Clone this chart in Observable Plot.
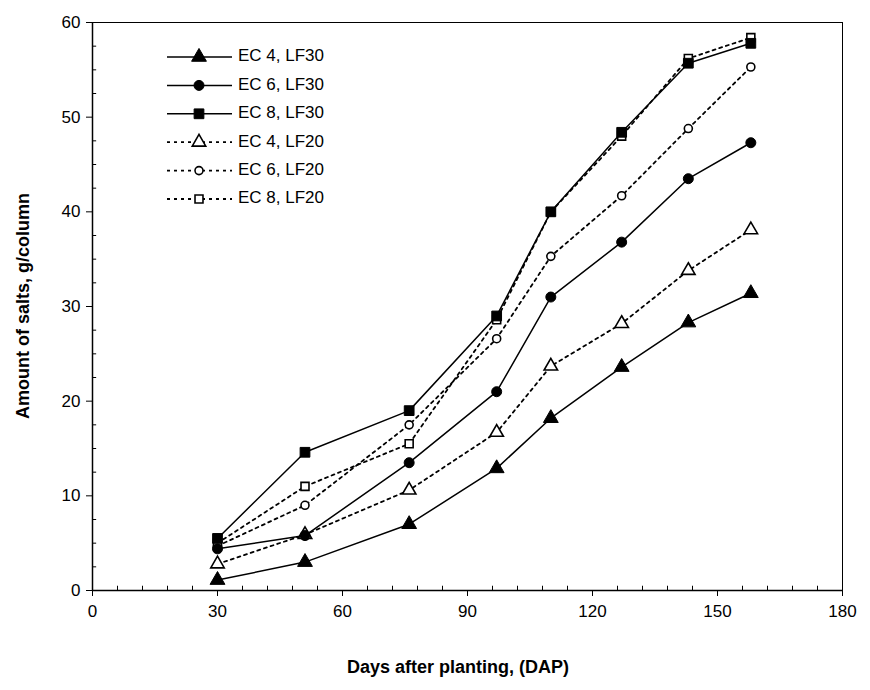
<!DOCTYPE html>
<html><head><meta charset="utf-8">
<script src="https://cdn.jsdelivr.net/npm/d3@7"></script>
<script src="https://cdn.jsdelivr.net/npm/@observablehq/plot@0.6"></script>
<style>body{margin:0;background:#fff} #chart{width:870px;height:690px}</style>
</head><body><div id="chart"></div>
<script>
// ---- data ----
const days = [30, 51, 76, 97, 110, 127, 143, 158];
const seriesNames = ["EC 4, LF30", "EC 6, LF30", "EC 8, LF30", "EC 4, LF20", "EC 6, LF20", "EC 8, LF20"];
const ec4lf30 = [1.1, 3.0, 7.0, 12.9, 18.2, 23.6, 28.3, 31.4];
const ec6lf30 = [4.4, 5.8, 13.5, 21.0, 31.0, 36.8, 43.5, 47.3];
const ec8lf30 = [5.5, 14.6, 19.0, 29.0, 40.0, 48.4, 55.7, 57.8];
const ec4lf20 = [2.8, 5.9, 10.6, 16.7, 23.7, 28.2, 33.8, 38.1];
const ec6lf20 = [4.7, 9.0, 17.5, 26.6, 35.3, 41.7, 48.8, 55.3];
const ec8lf20 = [5.0, 11.0, 15.5, 28.6, 40.0, 48.0, 56.2, 58.4];
const xTicks = [0, 30, 60, 90, 120, 150, 180];
const yTicks = [0, 10, 20, 30, 40, 50, 60];
const xTitle = "Days after planting, (DAP)";
const yTitle = "Amount of salts, g/column";

const values = [ec4lf30, ec6lf30, ec8lf30, ec4lf20, ec6lf20, ec8lf20];
const styleOf = {
  "EC 4, LF30": {symbol: "triangle", fill: "black", dash: null, r: 5.5, sw: 1},
  "EC 6, LF30": {symbol: "circle", fill: "black", dash: null, r: 5, sw: 1},
  "EC 8, LF30": {symbol: "square", fill: "black", dash: null, r: 5.5, sw: 1},
  "EC 4, LF20": {symbol: "triangle", fill: "white", dash: "3,4", r: 5, sw: 1.6},
  "EC 6, LF20": {symbol: "circle", fill: "white", dash: "3,4", r: 4, sw: 1.6},
  "EC 8, LF20": {symbol: "square", fill: "white", dash: "3,4", r: 4.5, sw: 1.6}
};
const rows = seriesNames.flatMap((s, i) => days.map((d, j) => ({series: s, day: d, value: values[i][j]})));
const xMinor = d3.range(0, 181, 6).filter(v => v % 30 !== 0);
const yMinor = d3.range(0, 60.01, 2.5).filter(v => v % 10 !== 0);

const drawOrder = [3, 4, 5, 0, 1, 2];
const seriesMarks = drawOrder.flatMap(i => {
  const s = seriesNames[i], st = styleOf[s];
  const data = rows.filter(r => r.series === s);
  return [
    Plot.line(data, {x: "day", y: "value", stroke: "black", strokeWidth: st.dash ? 1.8 : 1.5, strokeDasharray: st.dash}),
    Plot.dot(data, {x: "day", y: "value", symbol: () => st.symbol, r: st.r, fill: st.fill, stroke: "black", strokeWidth: st.sw})
  ];
});

const chart = Plot.plot({
  width: 870, height: 690,
  marginLeft: 92, marginRight: 28, marginTop: 22, marginBottom: 100,
  style: {fontFamily: "'Liberation Sans', Arial, sans-serif", fontSize: "17px", color: "black", background: "white"},
  x: {domain: [0, 180]},
  y: {domain: [0, 60]},
  symbol: {type: "identity"},
  marks: [
    Plot.ruleY([60], {stroke: "black", strokeWidth: 1}),
    Plot.ruleX([180], {stroke: "black", strokeWidth: 1}),
    Plot.ruleX(xMinor, {y1: 0, y2: 0.45, stroke: "black", strokeWidth: 1}),
    Plot.ruleY(yMinor, {x1: 0, x2: 1, stroke: "black", strokeWidth: 1}),
    Plot.axisX({ticks: xTicks, tickSize: 6, tickPadding: 8, tickFormat: d => String(d), label: null, fontSize: 17}),
    Plot.axisY({ticks: yTicks, tickSize: 6, tickPadding: 6, tickFormat: d => String(d), label: null, fontSize: 17}),
    Plot.ruleY([0], {stroke: "black", strokeWidth: 1.5}),
    Plot.ruleX([0], {stroke: "black", strokeWidth: 1.5}),
    ...seriesMarks
  ]
});
document.getElementById("chart").appendChild(chart);

// titles & legend
const svg = d3.select(chart);
svg.append("text").attr("x", 458).attr("y", 668).attr("text-anchor", "middle").attr("dominant-baseline", "middle")
  .attr("font-weight", "bold").attr("font-size", 18).attr("fill", "black").text(xTitle);
svg.append("text").attr("transform", "translate(24,306) rotate(-90)").attr("text-anchor", "middle").attr("dominant-baseline", "middle")
  .attr("font-weight", "bold").attr("font-size", 18).attr("fill", "black").text(yTitle);

const symMap = {triangle: d3.symbolTriangle, circle: d3.symbolCircle, square: d3.symbolSquare};
const lg = svg.append("g");
seriesNames.forEach((s, i) => {
  const st = styleOf[s];
  const y = 57 + 28.4 * i;
  lg.append("line").attr("x1", 167).attr("x2", 232).attr("y1", y).attr("y2", y)
    .attr("stroke", "black").attr("stroke-width", st.dash ? 1.8 : 1.5).attr("stroke-dasharray", st.dash);
  lg.append("path").attr("transform", `translate(199,${y})`)
    .attr("d", d3.symbol(symMap[st.symbol], st.r * st.r * Math.PI)())
    .attr("fill", st.fill).attr("stroke", "black").attr("stroke-width", st.sw);
  lg.append("text").attr("x", 238).attr("y", y).attr("text-anchor", "start").attr("dominant-baseline", "middle")
    .attr("font-size", 17).attr("fill", "black").text(s);
});
</script></body></html>
